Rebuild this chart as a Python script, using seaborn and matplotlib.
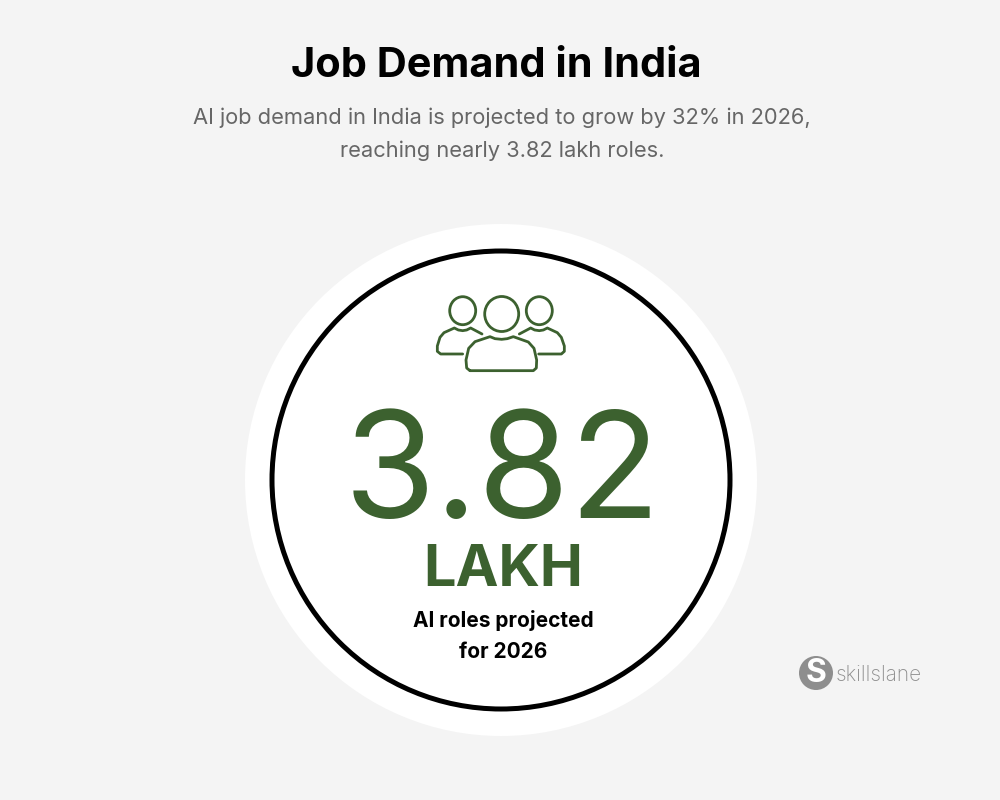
"""Job demand in India: single stat card, drawn in pixel coordinates."""

import matplotlib.pyplot as plt
import seaborn as sns
from matplotlib.patches import Circle, Ellipse, PathPatch
from matplotlib.path import Path

# -----------------------------
# Data
# -----------------------------
title = "Job Demand in India"
subtitle_lines = [
    "AI job demand in India is projected to grow by 32% in 2026,",
    "reaching nearly 3.82 lakh roles.",
]
stat_value = "3.82"
stat_unit = "LAKH"
caption_lines = ["AI roles projected", "for 2026"]
brand = "skillslane"

# -----------------------------
# Config
# -----------------------------
BG = "#f4f4f4"
GREEN = "#3c612f"
GREY = "#666666"
LOGO = "#8e8e8e"
FONT = "Inter"

sns.set_theme(style="white")
plt.rcParams["font.family"] = [FONT, "DejaVu Sans"]

fig = plt.figure(figsize=(10, 8), dpi=100, facecolor=BG)
ax = fig.add_axes([0, 0, 1, 1])
ax.set_xlim(0, 1000)
ax.set_ylim(800, 0)
ax.set_facecolor(BG)
ax.axis("off")


def zoomed(points):
    return [(420 + x / 3, 280 + y / 3) for x, y in points]


def outline(points):
    codes = [Path.MOVETO] + [Path.LINETO] * (len(points) - 1)
    ax.add_patch(PathPatch(Path(zoomed(points), codes), fill=False, ec=GREEN, lw=2.0,
                           capstyle="round", joinstyle="round", zorder=4))


# Header
ax.text(496, 77, title, ha="center", va="baseline", fontsize=29.9, fontweight="bold", color="black")
for y, line in zip([124, 157], subtitle_lines):
    ax.text(502, y, line, ha="center", va="baseline", fontsize=15.75, color=GREY)

# Rings
ax.add_patch(Circle((501, 480), 256, fc="white", ec="none", zorder=1))
ax.add_patch(Circle((501, 480), 229, fc="white", ec="black", lw=3.6, zorder=2))

# People icon
for cx, cy, rx, ry in [(462.7, 310.7, 26, 28), (539.3, 310.7, 26, 28), (501.7, 314, 34, 35)]:
    ax.add_patch(Ellipse((cx, cy), rx, ry, fill=False, ec=GREEN, lw=2.0, zorder=4))

outline([(128, 222), (62, 222), (52, 214), (52, 198), (60, 172), (72, 158), (103, 144),
         (115, 150), (128, 152), (140, 150), (152, 144), (186, 162)])
outline([(298, 162), (332, 144), (344, 150), (358, 152), (370, 150), (382, 144), (412, 158),
         (424, 172), (433, 198), (433, 214), (424, 222), (356, 222)])
outline([(150, 272), (140, 264), (138, 240), (146, 205), (165, 185), (210, 170), (225, 176),
         (245, 178), (262, 176), (280, 170), (325, 186), (342, 205), (350, 240), (349, 264),
         (340, 272), (150, 272)])

# Main stat
ax.text(502, 518, stat_value, ha="center", va="baseline", fontsize=107, color=GREEN, zorder=4)
ax.text(503, 586.5, stat_unit, ha="center", va="baseline", fontsize=41.5, fontweight="bold",
        color=GREEN, zorder=4)
for y, line in zip([627, 658], caption_lines):
    ax.text(503, y, line, ha="center", va="baseline", fontsize=15, fontweight="bold",
            color="black", zorder=4)

# Logo
ax.add_patch(Circle((816, 673), 17, fc=LOGO, ec="none", zorder=4))
ax.text(816, 682, "S", ha="center", va="baseline", fontsize=23, fontweight="bold", color="white",
        zorder=5)
ax.text(836, 681, brand, ha="left", va="baseline", fontsize=15, fontweight="light", color=LOGO,
        zorder=4)

fig.savefig("out.png", dpi=100, facecolor=BG)
plt.close(fig)
